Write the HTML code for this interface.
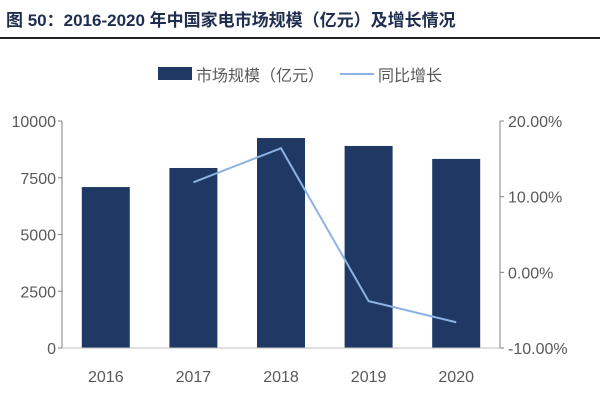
<!DOCTYPE html>
<html><head><meta charset="utf-8"><style>
body{margin:0;background:#fff;width:600px;height:400px;overflow:hidden;font-family:"Liberation Sans","Noto Sans CJK SC",sans-serif}
#title{position:absolute;left:6px;top:6px;font-size:17px;font-weight:bold;color:#1f2d4f;letter-spacing:0px;white-space:nowrap}
#rule{position:absolute;left:0;top:37px;width:600px;height:2px;background:#222}
</style></head><body>
<div id="title">图 50：2016-2020 年中国家电市场规模（亿元）及增长情况</div>
<div id="rule"></div>
<svg id="chart" width="600" height="400" style="position:absolute;left:0;top:0"></svg>
<script>
const categories=["2016","2017","2018","2019","2020"];
const marketSize=[7090,7930,9250,8900,8330];
const growth=[null,11.9,16.4,-3.8,-6.6];
const leftTicks=[0,2500,5000,7500,10000];
const rightTicks=[-10,0,10,20];
const L=62,R=500,T=121,B=348;
const svg=document.getElementById('chart');
const NS="http://www.w3.org/2000/svg";
function mk(t,a,p){const e=document.createElementNS(NS,t);for(const k in a)e.setAttribute(k,a[k]);(p||svg).appendChild(e);return e;}
const yL=v=>B-(v-0)/10000*(B-T);
const yR=v=>B-(v+10)/30*(B-T);
const bw=(R-L)/categories.length;
const xC=i=>L+bw*(i+0.5);
let lg=mk('rect',{x:158,y:67,width:34,height:13,fill:'#1f3864'});

let lt=mk('text',{x:196,y:81,'font-size':16,fill:'#595959'});lt.textContent='市场规模（亿元）';

let ll=mk('line',{x1:340,x2:374,y1:74,y2:74,stroke:'#8db3e2','stroke-width':2});

let lt2=mk('text',{x:378,y:81,'font-size':16,fill:'#595959'});lt2.textContent='同比增长';

marketSize.forEach((v,i)=>{
 const r=mk('rect',{x:xC(i)-24,y:yL(v),width:48,height:B-yL(v),fill:'#1f3864'});
 
 
});
mk('line',{x1:L,x2:L,y1:T,y2:B,stroke:'#808080'});
mk('line',{x1:R,x2:R,y1:T,y2:B,stroke:'#808080'});
mk('line',{x1:L,x2:R,y1:B,y2:B,stroke:'#bfbfbf'});
leftTicks.forEach(v=>{
 mk('line',{x1:L-4,x2:L,y1:yL(v),y2:yL(v),stroke:'#808080'});
 const t=mk('text',{x:L-6,y:yL(v)+6,'font-size':16,fill:'#595959','text-anchor':'end'});t.textContent=v;
 
 
});
rightTicks.forEach(v=>{
 mk('line',{x1:R,x2:R+4,y1:yR(v),y2:yR(v),stroke:'#808080'});
 const t=mk('text',{x:R+8,y:yR(v)+6,'font-size':16,fill:'#595959'});t.textContent=v.toFixed(2)+'%';
 
 
});
categories.forEach((c,i)=>{
 const t=mk('text',{x:xC(i),y:382,'font-size':16,fill:'#595959','text-anchor':'middle'});t.textContent=c;
 
 
});
const pts=growth.map((v,i)=>v==null?null:[xC(i),yR(v)]).filter(p=>p);
const pl=mk('polyline',{points:pts.map(p=>p.join(',')).join(' '),fill:'none',stroke:'#8db3e2','stroke-width':2});


</script>
</body></html>
